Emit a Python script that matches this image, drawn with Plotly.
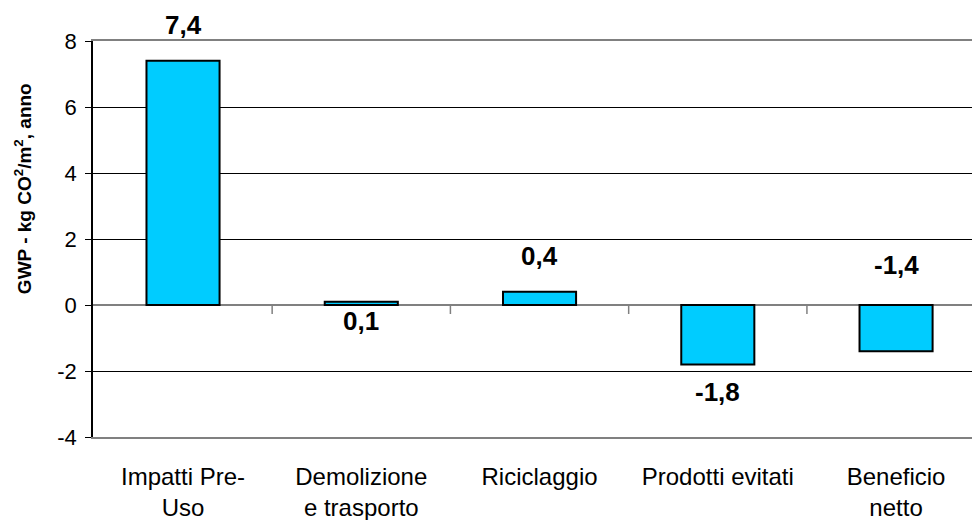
import plotly.graph_objects as go

# Global warming potential per life-cycle phase (kg CO2 / m2 per year)
categories = ["Impatti Pre-<br>Uso", "Demolizione<br>e trasporto", "Riciclaggio",
              "Prodotti evitati", "Beneficio<br>netto"]
values = [7.4, 0.1, 0.4, -1.8, -1.4]
y_ticks = [-4, -2, 0, 2, 4, 6, 8]
y_tick_text = ["-4", "-2", "0", "2", "4", "6", "8"]

# pixel offsets of the value labels from the bar ends
label_shift = [36, -19, 36, -28, 86]

FONT = "Liberation Sans, Arial, sans-serif"
x_idx = list(range(len(categories)))

fig = go.Figure()
fig.add_trace(go.Bar(
    x=x_idx, y=values, width=0.41,
    marker=dict(color="#00CCFF", line=dict(color="#000000", width=2)),
    hoverinfo="skip", showlegend=False,
))

# bold value labels, comma as decimal separator
for i, (v, s) in enumerate(zip(values, label_shift)):
    fig.add_annotation(
        x=i, y=v, yshift=s, text="<b>" + f"{v:.1f}".replace(".", ",") + "</b>",
        showarrow=False, font=dict(family=FONT, size=26, color="#000000"),
        xanchor="center", yanchor="middle",
    )

# small tick marks on the zero line at the category boundaries
for i in range(1, len(categories)):
    fig.add_shape(type="line", xref="x", yref="y", x0=i - 0.5, x1=i - 0.5,
                  ysizemode="pixel", yanchor=0, y0=0, y1=-9,
                  line=dict(color="#808080", width=1.5), layer="above")

fig.add_annotation(
    xref="paper", yref="paper", x=-0.0796, y=0.626,
    text="<b>GWP - kg CO<sup>2</sup>/m<sup>2</sup>, anno</b>",
    textangle=-90, showarrow=False,
    font=dict(family=FONT, size=19, color="#000000"),
    xanchor="center", yanchor="middle",
)

fig.update_layout(
    width=972, height=520,
    margin=dict(l=93, r=0, t=41, b=83),
    paper_bgcolor="#FFFFFF", plot_bgcolor="#FFFFFF",
    font=dict(family=FONT, color="#000000"),
)
fig.update_xaxes(
    tickmode="array", tickvals=x_idx, ticktext=categories,
    range=[-0.505, 4.426], automargin=False,
    showgrid=False, zeroline=False,
    showline=True, linecolor="#808080", linewidth=2, mirror=True,
    ticks="", tickfont=dict(family=FONT, size=24, color="#000000"),
    ticklabelstandoff=17,
)
fig.update_yaxes(
    range=[-4, 8], tickmode="array", tickvals=y_ticks, ticktext=y_tick_text,
    automargin=False,
    showgrid=True, gridcolor="#000000", gridwidth=1,
    zeroline=True, zerolinecolor="#808080", zerolinewidth=2,
    showline=True, linecolor="#000000", linewidth=1.5,
    ticks="outside", ticklen=6, tickcolor="#000000", tickwidth=1,
    tickfont=dict(family=FONT, size=22, color="#000000"),
    ticklabelstandoff=4,
)

fig.write_html("out.html")
